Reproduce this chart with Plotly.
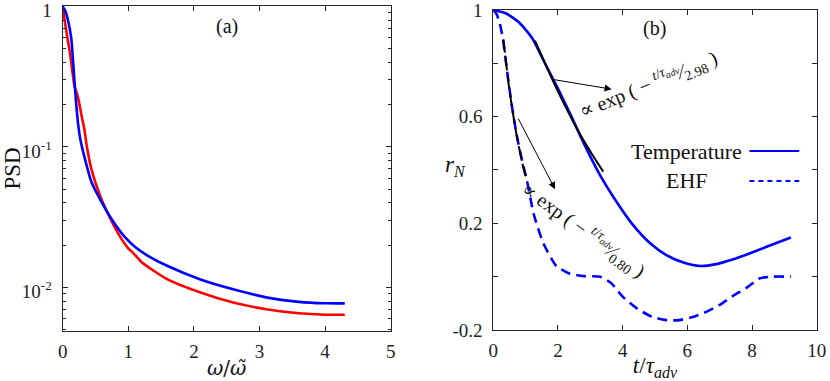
import plotly.graph_objects as go

# ---- panel (a): power spectral density ----
omega_blue = [0, 0.04, 0.08, 0.13, 0.16, 0.2, 0.24, 0.27, 0.34, 0.44, 0.6, 0.77, 0.95,
              1.1, 1.3, 1.6, 2.1, 2.6, 3.1, 3.6, 4.0, 4.3]
psd_blue = [1, 0.93, 0.80, 0.60, 0.40, 0.22, 0.14, 0.113, 0.082, 0.056, 0.040, 0.0295,
            0.0228, 0.0195, 0.0168, 0.0142, 0.0114, 0.0097, 0.0085, 0.0079, 0.00772, 0.0077]

omega_red = [0, 0.03, 0.06, 0.11, 0.15, 0.18, 0.21, 0.24, 0.29, 0.33, 0.37, 0.44, 0.57,
             0.72, 0.87, 1.0, 1.08, 1.2, 1.6, 2.1, 2.6, 3.1, 3.6, 4.0, 4.3]
psd_red = [1, 0.80, 0.65, 0.47, 0.34, 0.27, 0.245, 0.219, 0.165, 0.134, 0.10, 0.069, 0.045,
           0.0314, 0.0232, 0.0190, 0.0175, 0.0152, 0.0114, 0.0092, 0.0078, 0.0070, 0.00655,
           0.0064, 0.0064]

psd_major = [0.01, 0.1, 1]
psd_major_text = ["10<sup>-2</sup>", "10<sup>-1</sup>", "1"]
psd_minor = [0.005, 0.006, 0.007, 0.008, 0.009, 0.02, 0.03, 0.04, 0.05, 0.06, 0.07,
             0.08, 0.09, 0.2, 0.3, 0.4, 0.5, 0.6, 0.7, 0.8, 0.9]

# ---- panel (b): normalised autocorrelation ----
t_temp = [0, 0.4, 0.8, 1.2, 1.6, 2.0, 2.4, 2.8, 3.3, 3.8, 4.3, 4.85, 5.35, 5.9, 6.4,
          6.9, 7.4, 7.9, 8.45, 9.2]
r_temp = [1.0, 0.987, 0.953, 0.895, 0.80, 0.705, 0.605, 0.50, 0.381, 0.283, 0.197,
          0.125, 0.081, 0.052, 0.04, 0.047, 0.064, 0.086, 0.112, 0.147]

t_ehf = [0, 0.1, 0.2, 0.3, 0.45, 0.6, 0.75, 0.9, 1.05, 1.25, 1.55, 1.95, 2.35, 2.8, 3.3,
         3.65, 4.0, 4.45, 4.9, 5.35, 5.75, 6.2, 6.6, 7.0, 7.4, 7.85, 8.25, 8.65, 9.2]
r_ehf = [1, 0.985, 0.95, 0.89, 0.75, 0.62, 0.515, 0.43, 0.355, 0.235, 0.125, 0.04, 0.012,
         0.002, 0.0, -0.025, -0.075, -0.12, -0.15, -0.163, -0.163, -0.15, -0.131, -0.106,
         -0.073, -0.04, -0.006, 0.0, 0.0]

t_fit_temp = [1.29, 1.75, 2.2, 2.7, 3.05, 3.4]
r_fit_temp = [0.885, 0.76, 0.645, 0.53, 0.46, 0.394]
t_fit_ehf = [0.31, 0.5, 0.7, 0.9, 1.05]
r_fit_ehf = [0.89, 0.70, 0.545, 0.425, 0.356]

r_ticks = [-0.2, 0, 0.2, 0.4, 0.6, 0.8, 1]
r_tick_text = ["-0.2", "", "0.2", "", "0.6", "", "1"]

FONT = "Liberation Serif, Times New Roman, DejaVu Serif, serif"
AX = "#262626"
BLUE = "#0000ff"
RED = "#ff0000"

fig = go.Figure()

smooth = dict(shape="spline", smoothing=0.6)
fig.add_trace(go.Scatter(x=omega_red, y=psd_red, mode="lines",
                         line=dict(color=RED, width=2.6, **smooth), xaxis="x", yaxis="y"))
fig.add_trace(go.Scatter(x=omega_blue, y=psd_blue, mode="lines",
                         line=dict(color=BLUE, width=2.6, **smooth), xaxis="x", yaxis="y"))

fig.add_trace(go.Scatter(x=t_ehf, y=r_ehf, mode="lines", name="EHF",
                         line=dict(color=BLUE, width=2.6, dash="10px,6px", **smooth),
                         xaxis="x2", yaxis="y2"))
fig.add_trace(go.Scatter(x=t_temp, y=r_temp, mode="lines", name="Temperature",
                         line=dict(color=BLUE, width=2.6, **smooth), xaxis="x2", yaxis="y2"))
fig.add_trace(go.Scatter(x=t_fit_ehf, y=r_fit_ehf, mode="lines",
                         line=dict(color="black", width=2, dash="13px,5px", **smooth),
                         xaxis="x2", yaxis="y2"))
fig.add_trace(go.Scatter(x=t_fit_temp, y=r_fit_temp, mode="lines",
                         line=dict(color="black", width=2, **smooth), xaxis="x2", yaxis="y2"))

axis_style = dict(showline=True, linecolor=AX, linewidth=1, mirror="ticks",
                  ticks="inside", ticklen=5, tickcolor=AX, showgrid=False,
                  zeroline=False, automargin=False, ticklabeloverflow="allow",
                  tickfont=dict(family=FONT, size=19, color="#222"))

fig.update_layout(
    width=830, height=381,
    margin=dict(l=0, r=0, t=0, b=0),
    paper_bgcolor="white", plot_bgcolor="white",
    showlegend=False,
    font=dict(family=FONT, color="#111"),
    xaxis=dict(domain=[0.0755, 0.4707], range=[0, 5], tickvals=[0, 1, 2, 3, 4, 5],
               title=dict(text="<i>ω</i>/<i>ω̃</i>",
                          font=dict(family="DejaVu Serif", size=20), standoff=0),
               ticklabelstandoff=3, anchor="y", **axis_style),
    yaxis=dict(domain=[0.1312, 0.9843], type="log", range=[-2.31, 0.003],
               tickvals=psd_major, ticktext=psd_major_text, ticklabelshift=4,
               minor=dict(tickvals=psd_minor, ticks="inside", ticklen=3, tickcolor=AX),
               title=dict(text="PSD", font=dict(family=FONT, size=23), standoff=2),
               ticklabelstandoff=6, anchor="x", **axis_style),
    xaxis2=dict(domain=[0.5943, 0.9840], range=[0, 10], tickvals=[0, 2, 4, 6, 8, 10],
                title=dict(text="<i>t</i>/<i>τ<sub>adv</sub></i>",
                           font=dict(family=FONT, size=23), standoff=0),
                ticklabelstandoff=3, anchor="y2", **axis_style),
    yaxis2=dict(domain=[0.1339, 0.9738], range=[-0.2, 1], tickvals=r_ticks,
                ticktext=r_tick_text, ticklabelstandoff=6, anchor="x2", **axis_style),
)

tf = dict(family=FONT, color="#111")
ann = []
ann.append(dict(x=2.5, y=-0.142, xref="x", yref="y", text="(a)", showarrow=False,
                font=dict(size=20, **tf)))
ann.append(dict(x=5.0, y=0.931, xref="x2", yref="y2", text="(b)", showarrow=False,
                font=dict(size=20, **tf)))
ann.append(dict(x=0.549, y=0.565, xref="paper", yref="paper",
                text="<i>r<sub>N</sub></i>", showarrow=False, font=dict(size=23, **tf)))
# fit labels
ann.append(dict(x=4.79, y=0.719, xref="x2", yref="y2", textangle=-22, showarrow=False,
                text="∝ exp ( − <sup><i>t</i>/<i>τ<sub>adv</sub></i></sup>⁄<sub>2.98</sub> )",
                font=dict(size=20, **tf)))
ann.append(dict(x=2.78, y=0.175, xref="x2", yref="y2", textangle=36, showarrow=False,
                text="∝ exp ( − <sup><i>t</i>/<i>τ<sub>adv</sub></i></sup>⁄<sub>0.80</sub> )",
                font=dict(size=20, **tf)))
# arrows
ann.append(dict(x=3.66, y=0.703, ax=1.77, ay=0.741, xref="x2", yref="y2",
                axref="x2", ayref="y2", text="", showarrow=True, arrowhead=2,
                arrowsize=1.4, arrowwidth=1, arrowcolor="black"))
ann.append(dict(x=1.91, y=0.328, ax=0.75, ay=0.598, xref="x2", yref="y2",
                axref="x2", ayref="y2", text="", showarrow=True, arrowhead=2,
                arrowsize=1.4, arrowwidth=1, arrowcolor="black"))
# legend labels (text left of line, as in the source)
ann.append(dict(x=5.98, y=0.471, xref="x2", yref="y2", text="Temperature",
                showarrow=False, font=dict(size=22, **tf)))
ann.append(dict(x=5.98, y=0.359, xref="x2", yref="y2", text="EHF",
                showarrow=False, font=dict(size=22, **tf)))
fig.update_layout(annotations=ann)

fig.add_shape(type="line", x0=7.92, x1=9.46, y0=0.471, y1=0.471, xref="x2", yref="y2",
              line=dict(color=BLUE, width=2))
fig.add_shape(type="line", x0=7.92, x1=9.46, y0=0.359, y1=0.359, xref="x2", yref="y2",
              line=dict(color=BLUE, width=2, dash="5px,4px"))

# drop the default 8px page margin so the figure sits at the window's corner
fig.write_html("out.html", config={"displayModeBar": False},
               post_script="document.body.style.margin='0';")
